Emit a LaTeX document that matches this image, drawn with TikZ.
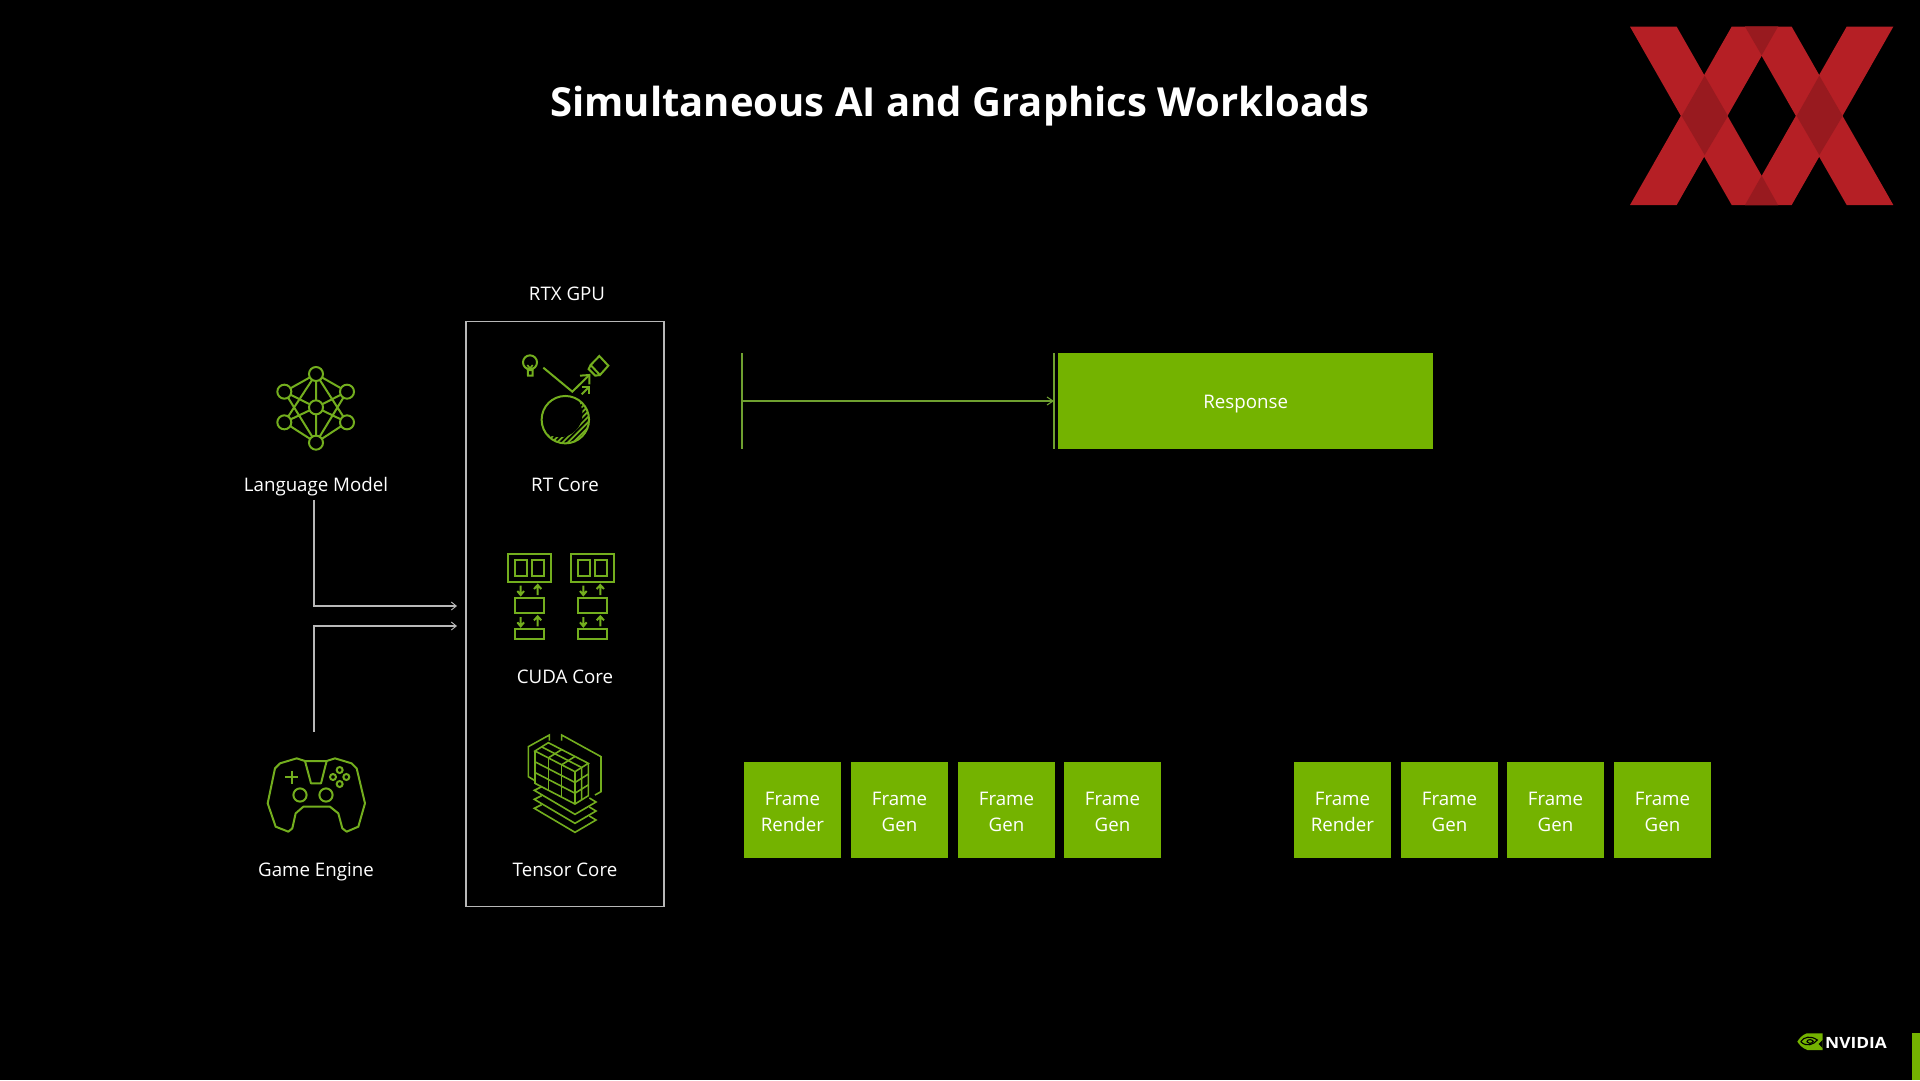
\documentclass[tikz,border=0pt]{standalone}
\usepackage{fontspec}
\setmainfont{Open Sans}
\usetikzlibrary{arrows.meta}
\definecolor{nvgreen}{HTML}{74B300}
\definecolor{icongreen}{HTML}{73AE1E}
\definecolor{barline}{HTML}{6FA030}
\definecolor{xxred}{HTML}{B51F25}
\definecolor{xxdark}{HTML}{981A1F}
\definecolor{lineg}{HTML}{B8B8B8}
\newcommand{\frametxt}[1]{\rule{0pt}{17pt}Frame\\#1}
\tikzset{
  lbl/.style={text=white,font=\fontsize{18.7}{25.7}\selectfont,align=center,inner sep=0pt},
  framebox/.style={fill=nvgreen,text=white,font=\fontsize{18.7}{25.7}\selectfont,align=center,inner sep=0pt,minimum width=96.5,minimum height=96,anchor=north west},
  conn/.style={draw=lineg,line width=1.1pt,-{Straight Barb[length=5pt,width=8pt,line width=.9pt]}},
  ico/.style={draw=icongreen,line width=2pt,line join=miter},
  zc/.style n args={2}{xshift=#1 pt,yshift=-#2 pt,x=.33333pt,y=-.33333pt},
}
\begin{document}
\begin{tikzpicture}[x=1pt,y=-1pt]
\useasboundingbox (0,0) rectangle (1920,1080);
\fill[black] (0,0) rectangle (1920,1080);

% title
\node[text=white,font=\fontsize{40}{48}\selectfont\bfseries,inner sep=0pt] (title) at (960,106) {Simultaneous AI and Graphics Workloads};

% XX logo
\begin{scope}[zc={1620}{10}]
  \fill[xxred] (30,50)--(170,50)--(475,585)--(335,585)--cycle;
  \fill[xxred] (30,585)--(170,585)--(475,50)--(335,50)--cycle;
  \fill[xxred] (375,50)--(515,50)--(820,585)--(680,585)--cycle;
  \fill[xxred] (375,585)--(515,585)--(820,50)--(680,50)--cycle;
  \fill[xxdark] (185,318)--(254,197)--(324,318)--(254,435)--cycle;
  \fill[xxdark] (530,318)--(598,197)--(668,318)--(598,435)--cycle;
  \fill[xxdark] (375,50)--(474,50)--(425,136)--cycle;
  \fill[xxdark] (375,585)--(474,585)--(425,497)--cycle;
\end{scope}

% GPU box and labels
\node[draw=lineg,line width=1.4pt,minimum width=198,minimum height=585.5,inner sep=0pt] (gpu) at (565,614) {};
\node[lbl] (gpulabel) at (567,293.5) {RTX GPU};
\node[lbl] (lm) at (316,486.5) {Language Model};
\node[lbl] (rt) at (565,484.5) {RT Core};
\node[lbl] (cuda) at (565,676.5) {CUDA Core};
\node[lbl] (tensor) at (565,870) {Tensor Core};
\node[lbl] (game) at (316,872) {Game Engine};

% connectors
\coordinate (lmout) at (314,500);
\coordinate (lmin) at (457,606);
\coordinate (gameout) at (314,732);
\coordinate (gamein) at (457,626);
\draw[conn] (lmout) |- (lmin);
\draw[conn] (gameout) |- (gamein);

% language model icon
\begin{scope}[zc={250}{350}]
  \coordinate (t) at (198,72); \coordinate (ul) at (103,125); \coordinate (ur) at (291,125);
  \coordinate (c) at (198,172); \coordinate (ll) at (103,217); \coordinate (lr) at (291,217);
  \coordinate (b) at (198,278);
  \draw[ico] (t)--(ul) (t)--(ur) (t)--(c) (t)--(ll) (t)--(lr) (ul)--(c) (ur)--(c) (ll)--(c) (lr)--(c)
             (ul)--(b) (ur)--(b) (ll)--(b) (lr)--(b) (c)--(b);
  \foreach \p in {t,ul,ur,c,ll,lr,b} \filldraw[ico,fill=black] (\p) circle[radius=7pt];
\end{scope}

% RT core icon
\begin{scope}[zc={500}{345}]
  \draw[ico] (90,52) circle[radius=7pt];
  \draw[ico] (83,68)--(84,92)--(98,92)--(98,68);
  \draw[ico,line width=1.6pt] (82,76)--(98,76) (82,60)--(90,70)--(98,60);
  \draw[ico] (130,68)--(217,140)--(268,90);
  \draw[ico] (240,92)--(268,90)--(268,118);
  \draw[ico] (245,148)--(268,125);
  \draw[ico] (247,125)--(268,125)--(268,146);
  \draw[ico] (298,33)--(325,62)--(300,90)--(272,60)--cycle;
  \draw[ico] (272,60)--(266,72)--(286,92)--(300,90);
  \begin{scope}
    \clip (196,224) circle[radius=23.7pt];
    \foreach \i in {0,...,16}
      \draw[icongreen,line width=1.7pt] (\i*16+90,310)--(\i*16+230,170);
    \fill[black] (178,207) circle[radius=23.2pt];
  \end{scope}
  \draw[ico] (196,224) circle[radius=23.7pt];
\end{scope}

% CUDA core icon
\begin{scope}[zc={500}{545}]
  \foreach \dx in {0,188} {
    \begin{scope}[xshift=\dx*.33333pt]
      \draw[ico] (25,28) rectangle (153,110);
      \draw[ico] (45,46) rectangle (82,92);
      \draw[ico] (97,46) rectangle (133,92);
      \draw[ico] (45,158) rectangle (133,205);
      \draw[ico] (45,252) rectangle (133,282);
      \foreach \dy in {0,94} {
        \draw[ico] (62,122+\dy)--(62,150+\dy) (52,138+\dy)--(62,150+\dy)--(72,138+\dy);
        \draw[ico] (113,150+\dy)--(113,120+\dy) (102,132+\dy)--(113,120+\dy)--(124,132+\dy);
      }
    \end{scope}
  }
\end{scope}

% Tensor core icon
\begin{scope}[zc={220}{520},line join=miter]
  \tikzset{tn/.style={draw=icongreen,line width=1.6pt}}
  % rear plates
  \draw[tn] (988,662)--(988,645)--(925,680)--(925,770)--(945,782);
  \draw[tn] (1025,662)--(1025,645)--(1143,710)--(1143,815)--(1125,825);
  % cuboid outline
  \draw[tn] (945,693)--(985,668)--(1105,730)--(1065,755)--cycle;
  \draw[tn] (945,693)--(945,790)--(1065,852)--(1105,827)--(1105,730);
  \draw[tn] (1065,755)--(1065,852);
  % top face and left-front face columns
  \foreach \i in {1,2} {
    \draw[tn] (945+40*\i,693+20.67*\i)--(985+40*\i,668+20.67*\i);
    \draw[tn] (945+40*\i,693+20.67*\i)--(945+40*\i,790+20.67*\i);
  }
  \draw[tn] (965,680.5)--(1085,742.5)--(1085,839.5);
  % rows
  \foreach \j in {1,2} {
    \draw[tn] (945,693+32.3*\j)--(1065,755+32.3*\j)--(1105,730+32.3*\j);
  }
  % stacked layers
  \foreach \dy in {0,27,54} {
    \draw[tn] (965,800+\dy)--(943,811+\dy)--(1065,883+\dy)--(1128,846+\dy)--(1108,834+\dy);
  }
\end{scope}

% Game controller icon
\begin{scope}[zc={255}{745}]
  \draw[ico,line join=round] (150,48)--(125,40)--(75,55)--(60,70)--(38,175)--(62,245)--(100,260)--(112,250)--(122,205)--(145,185)--(225,185)--(250,205)--(262,250)--(275,260)--(310,245)--(330,175)--(305,70)--(290,55)--(240,40)--(215,48)--cycle;
  \draw[ico,line join=round] (150,48)--(168,115)--(198,115)--(215,48);
  \draw[ico] (90,97)--(130,97) (110,77)--(110,117);
  \draw[ico] (135,150) circle[radius=6.6pt];
  \draw[ico] (213,150) circle[radius=6.6pt];
  \foreach \p in {(254,75),(234,96),(274,96),(254,117)} \draw[ico] \p circle[radius=3pt];
\end{scope}

% response timeline
\coordinate (barA) at (742,353);
\coordinate (barAend) at (742,449);
\coordinate (barB) at (1054,353);
\coordinate (barBend) at (1054,449);
\coordinate (arrA) at (742,401);
\coordinate (arrB) at (1054,401);
\draw[barline,line width=1.3pt] (barA)--(barAend);
\draw[barline,line width=1.3pt] (barB)--(barBend);
\draw[barline,line width=1.3pt,-{Straight Barb[length=6pt,width=8pt,line width=1.1pt]}] (arrA)--(arrB);
\node[framebox,minimum width=375,minimum height=96] (resp) at (1058,353) {\raisebox{-3.2pt}[\height][\depth]{Response}};

% frames
\node[framebox] (f1) at (744,762) {\frametxt{Render}};
\node[framebox] (f2) at (851,762) {\frametxt{Gen}};
\node[framebox] (f3) at (958,762) {\frametxt{Gen}};
\node[framebox] (f4) at (1064,762) {\frametxt{Gen}};
\node[framebox] (f5) at (1294,762) {\frametxt{Render}};
\node[framebox] (f6) at (1401,762) {\frametxt{Gen}};
\node[framebox] (f7) at (1507,762) {\frametxt{Gen}};
\node[framebox] (f8) at (1614,762) {\frametxt{Gen}};

% NVIDIA logo
\begin{scope}[zc={1780}{1020}]
  \fill[nvgreen] (80,40)--(128,40)--(128,90)--(82,90) .. controls (66,84) and (58,74) .. (52,65) .. controls (58,55) and (66,45) .. (80,40) -- cycle;
  \draw[black,line width=1.1pt] (62,65) .. controls (72,50) and (92,46) .. (112,60) .. controls (100,74) and (80,82) .. (62,65);
  \draw[black,line width=1.1pt] (80,65) .. controls (84,56) and (96,58) .. (100,64) .. controls (94,72) and (84,72) .. (80,65);
  \fill[black] (128,60)--(116,72)--(128,84)--cycle;
\end{scope}
\node[text=white,font=\fontsize{15.5}{15.5}\selectfont\bfseries,inner sep=0pt,anchor=west,xscale=1.12] (nv) at (1825,1042.5) {NVIDIA};
\fill[nvgreen] (1912,1033) rectangle (1920,1080);
\end{tikzpicture}
\end{document}
